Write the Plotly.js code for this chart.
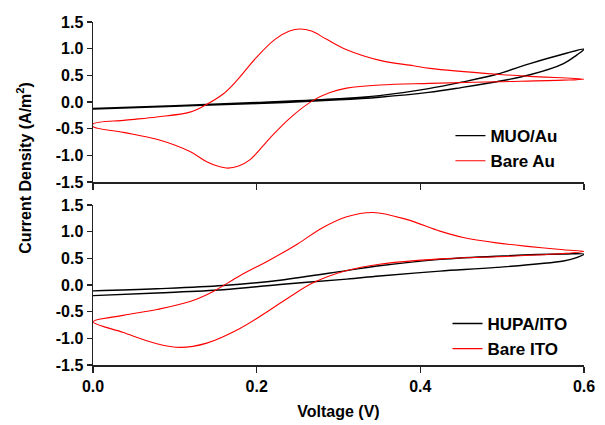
<!DOCTYPE html>
<html>
<head>
<meta charset="utf-8">
<script src="https://cdn.plot.ly/plotly-3.0.1.min.js"></script>
<style>
html,body{margin:0;padding:0;background:#fff;}
#chart{width:605px;height:425px;}
</style>
</head>
<body>
<div id="chart"></div>
<script>
// ---- Data ----
// Top panel: MUO/Au (black) CV loop
var muoV = [0, 0.1, 0.2, 0.3, 0.35, 0.41, 0.45, 0.4933, 0.534, 0.575, 0.6,
            0.591, 0.575, 0.534, 0.4933, 0.45, 0.41, 0.35, 0.3, 0.2, 0.1, 0];
var muoI = [-0.12, -0.07, -0.01, 0.06, 0.12, 0.25, 0.37, 0.52, 0.72, 0.90, 0.99,
            0.88, 0.72, 0.51, 0.38, 0.27, 0.18, 0.09, 0.04, -0.03, -0.08, -0.13];
// Top panel: Bare Au (red)
var auV = [0, 0.04, 0.078, 0.1185, 0.137, 0.159, 0.1756, 0.2, 0.222, 0.24, 0.253, 0.267, 0.285, 0.31, 0.3507, 0.3915, 0.4118, 0.4933, 0.534, 0.6,
           0.575, 0.4933, 0.4118, 0.3507, 0.31, 0.2896, 0.269, 0.24, 0.216, 0.192, 0.178, 0.165, 0.152, 0.139, 0.1185, 0.078, 0.037, 0, 0];
var auI = [-0.41, -0.34, -0.28, -0.19, -0.06, 0.15, 0.40, 0.84, 1.17, 1.33, 1.37, 1.33, 1.18, 0.98, 0.78, 0.68, 0.63, 0.52, 0.48, 0.43,
           0.41, 0.38, 0.35, 0.32, 0.26, 0.18, 0.03, -0.31, -0.68, -1.08, -1.20, -1.24, -1.20, -1.12, -0.93, -0.70, -0.57, -0.46, -0.41];
// Bottom panel: HUPA/ITO (black)
var hupaV = [0, 0.078, 0.159, 0.2285, 0.31, 0.35, 0.424, 0.4933, 0.575, 0.6,
             0.59, 0.575, 0.4933, 0.424, 0.35, 0.31, 0.2285, 0.159, 0.078, 0];
var hupaI = [-0.11, -0.07, -0.01, 0.09, 0.27, 0.36, 0.48, 0.54, 0.58, 0.58,
             0.51, 0.45, 0.33, 0.26, 0.17, 0.11, 0.01, -0.09, -0.15, -0.20];
// Bottom panel: Bare ITO (red)
var itoV = [0, 0.037, 0.078, 0.1185, 0.147, 0.179, 0.216, 0.25, 0.28, 0.31, 0.3425, 0.383, 0.424, 0.4526, 0.4933, 0.534, 0.575, 0.6,
            0.575, 0.4933, 0.424, 0.35, 0.31, 0.269, 0.2407, 0.212, 0.179, 0.139, 0.1066, 0.078, 0.037, 0];
var itoI = [-0.69, -0.57, -0.46, -0.31, -0.12, 0.17, 0.47, 0.77, 1.07, 1.28, 1.36, 1.23, 1.01, 0.89, 0.79, 0.72, 0.66, 0.63,
            0.59, 0.53, 0.49, 0.39, 0.27, 0.04, -0.22, -0.51, -0.82, -1.09, -1.17, -1.10, -0.89, -0.69];

var xTickVals = [0, 0.2, 0.4, 0.6];
var xTickText = ['0.0', '0.2', '0.4', '0.6'];
var yTickVals = [-1.5, -1.0, -0.5, 0, 0.5, 1.0, 1.5];
var yTickText = ['-1.5', '-1.0', '-0.5', '0.0', '0.5', '1.0', '1.5'];

// ---- Styles ----
var FONT = 'Liberation Sans, Arial, Helvetica, sans-serif';
var axisCol = '#222';

var lineBlack = {color: '#000', width: 1.4, shape: 'spline', smoothing: 1};
var lineRed = {color: '#ff0000', width: 1.1, shape: 'spline', smoothing: 1};

var traces = [
  {x: muoV, y: muoI, name: 'MUO/Au', xaxis: 'x', yaxis: 'y', legend: 'legend', mode: 'lines', line: lineBlack},
  {x: auV, y: auI, name: 'Bare Au', xaxis: 'x', yaxis: 'y', legend: 'legend', mode: 'lines', line: lineRed},
  {x: hupaV, y: hupaI, name: 'HUPA/ITO', xaxis: 'x2', yaxis: 'y2', legend: 'legend2', mode: 'lines', line: lineBlack},
  {x: itoV, y: itoI, name: 'Bare ITO', xaxis: 'x2', yaxis: 'y2', legend: 'legend2', mode: 'lines', line: lineRed}
];

function bold(arr) { return arr.map(function (s) { return '<b>' + s + '</b>'; }); }

var tickFont = {family: FONT, size: 16, color: '#000', weight: 'bold'};

function xAxis(anchor, labels) {
  return {
    anchor: anchor, domain: [0, 1], range: [0, 0.6],
    tickvals: xTickVals, ticktext: bold(xTickText), showticklabels: labels,
    ticks: 'outside', ticklen: 6, tickwidth: 1.5, tickcolor: axisCol,
    showline: true, linecolor: axisCol, linewidth: 1.5,
    showgrid: false, zeroline: false, tickfont: tickFont
  };
}
function yAxis(anchor, domain) {
  return {
    anchor: anchor, domain: domain, range: [-1.5, 1.5],
    tickvals: yTickVals, ticktext: bold(yTickText),
    ticks: 'outside', ticklen: 5, tickwidth: 1.5, tickcolor: axisCol,
    showline: true, linecolor: axisCol, linewidth: 1.5,
    showgrid: false, zeroline: false, tickfont: tickFont
  };
}

var xa2 = xAxis('y2', true);
xa2.matches = 'x';
xa2.title = {text: '<b>Voltage (V)</b>', font: {family: FONT, size: 16, color: '#000', weight: 'bold'}, standoff: 12};

var legendFont = {family: FONT, size: 17, color: '#000', weight: 'bold'};

var layout = {
  width: 605, height: 425,
  margin: {l: 93, r: 21, t: 22, b: 60},
  paper_bgcolor: '#fff', plot_bgcolor: '#fff',
  showlegend: true,
  xaxis: xAxis('y', false),
  yaxis: yAxis('x', [0.5335, 1]),
  xaxis2: xa2,
  yaxis2: yAxis('x2', [0, 0.4665]),
  legend: {x: 0.728, y: 0.72, xanchor: 'left', yanchor: 'top', bgcolor: 'rgba(0,0,0,0)',
           font: legendFont, tracegroupgap: 0},
  legend2: {x: 0.722, y: 0.172, xanchor: 'left', yanchor: 'top', bgcolor: 'rgba(0,0,0,0)',
            font: legendFont, tracegroupgap: 0},
  annotations: [{
    text: '<b>Current Density (A/m<sup>2</sup>)</b>', textangle: -90,
    xref: 'paper', yref: 'paper', x: -0.14, y: 0.576, xanchor: 'center', yanchor: 'middle',
    showarrow: false, font: {family: FONT, size: 16, color: '#000', weight: 'bold'}
  }]
};

Plotly.newPlot('chart', traces, layout, {displayModeBar: false, staticPlot: true});
</script>
</body>
</html>
